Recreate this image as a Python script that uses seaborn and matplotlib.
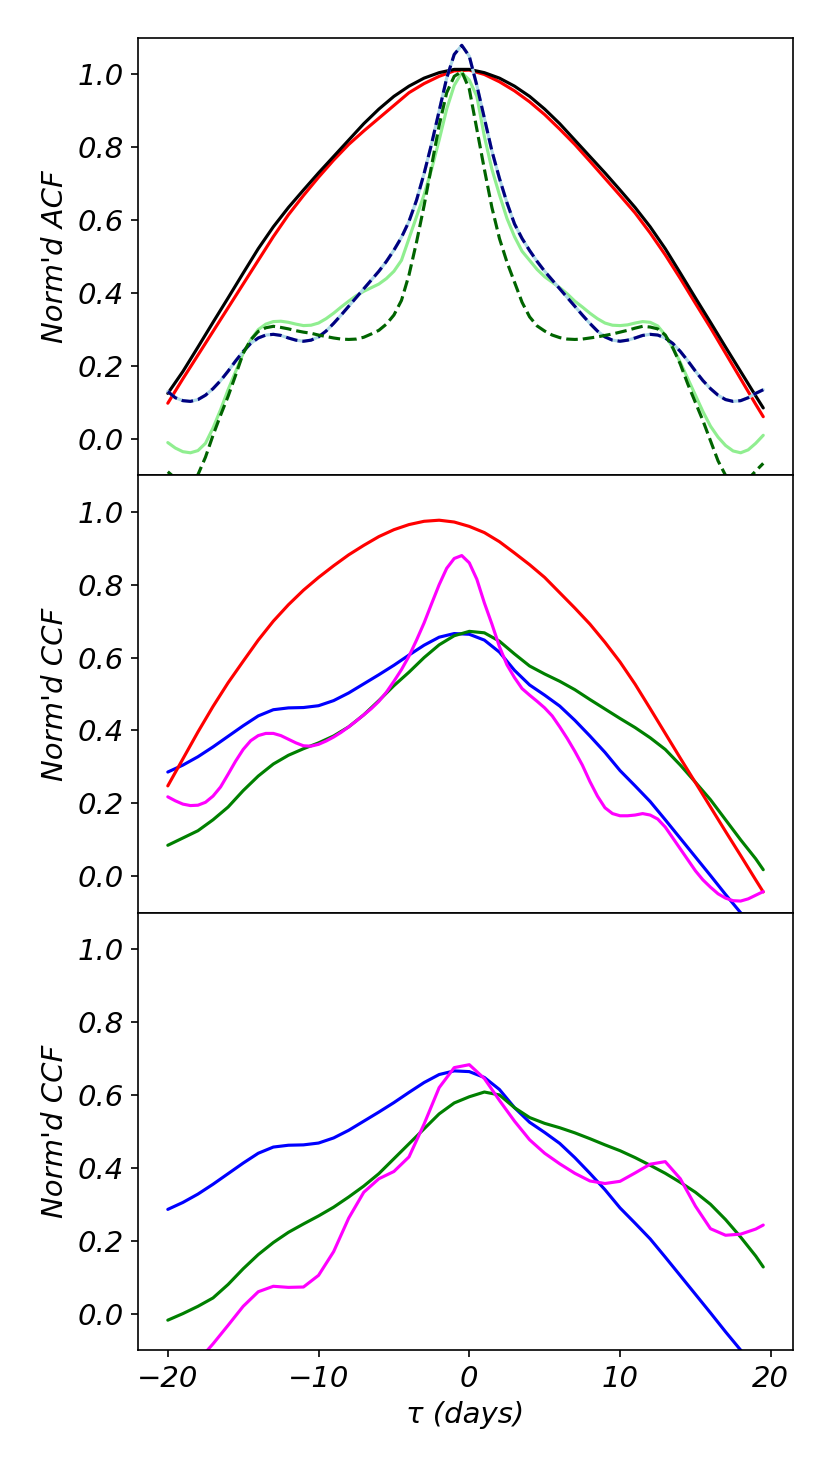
# Normalised ACF / CCF panels, three stacked axes sharing the lag axis
import numpy as np
import matplotlib
matplotlib.use("Agg")
import matplotlib.pyplot as plt
import seaborn as sns

# lag grids (days)
tau = np.append(np.arange(-20, 20, 1.0), 19.5)
tau_fine = np.arange(-20, 20, 0.5)

# top panel: ACFs
acf_red = [0.098, 0.165, 0.23, 0.295, 0.36, 0.425, 0.49, 0.555, 0.615, 0.668,
           0.718, 0.765, 0.808, 0.845, 0.88, 0.915, 0.95, 0.975, 0.995, 1.01,
           1.012, 1.0, 0.98, 0.955, 0.925, 0.89, 0.85, 0.808, 0.762, 0.715,
           0.668, 0.62, 0.565, 0.505, 0.44, 0.372, 0.305, 0.235, 0.165, 0.095,
           0.061]
acf_black = [0.125, 0.185, 0.252, 0.32, 0.387, 0.455, 0.522, 0.582, 0.635, 0.683,
             0.73, 0.775, 0.82, 0.865, 0.905, 0.94, 0.968, 0.99, 1.005, 1.014,
             1.014, 1.005, 0.99, 0.968, 0.94, 0.905, 0.865, 0.82, 0.775, 0.73,
             0.683, 0.635, 0.582, 0.522, 0.455, 0.387, 0.32, 0.252, 0.185, 0.118,
             0.085]
acf_navy = [0.13, 0.113, 0.105, 0.103, 0.108, 0.12, 0.138, 0.16, 0.186, 0.214,
            0.24, 0.262, 0.277, 0.285, 0.287, 0.284, 0.277, 0.271, 0.268, 0.271,
            0.28, 0.296, 0.317, 0.34, 0.364, 0.388, 0.412, 0.436, 0.46, 0.487,
            0.518, 0.553, 0.597, 0.655, 0.728, 0.81, 0.9, 0.99, 1.055, 1.08,
            1.05, 0.97, 0.88, 0.79, 0.715, 0.648, 0.59, 0.55, 0.517, 0.487,
            0.46, 0.436, 0.412, 0.388, 0.364, 0.34, 0.317, 0.296, 0.28, 0.271,
            0.268, 0.271, 0.277, 0.284, 0.287, 0.285, 0.277, 0.262, 0.24, 0.214,
            0.186, 0.16, 0.138, 0.12, 0.108, 0.103, 0.105, 0.113, 0.125, 0.135]
acf_lightgreen = [-0.01, -0.025, -0.035, -0.038, -0.032, -0.012, 0.03, 0.08, 0.135, 0.185,
                  0.235, 0.272, 0.3, 0.315, 0.322, 0.323, 0.32, 0.315, 0.311, 0.312,
                  0.318, 0.33, 0.345, 0.362, 0.378, 0.393, 0.405, 0.415, 0.425, 0.44,
                  0.46, 0.49, 0.55, 0.61, 0.67, 0.74, 0.82, 0.905, 0.97, 1.005,
                  0.985, 0.94, 0.83, 0.74, 0.67, 0.605, 0.555, 0.515, 0.49, 0.465,
                  0.445, 0.43, 0.415, 0.398, 0.378, 0.362, 0.345, 0.33, 0.318, 0.312,
                  0.311, 0.313, 0.318, 0.322, 0.32, 0.31, 0.285, 0.25, 0.21, 0.165,
                  0.12, 0.075, 0.035, 0.005, -0.018, -0.033, -0.038, -0.03, -0.012, 0.01]
acf_darkgreen = [-0.09, -0.108, -0.12, -0.115, -0.098, -0.05, 0.01, 0.065, 0.117, 0.175,
                 0.235, 0.272, 0.295, 0.305, 0.309, 0.306, 0.302, 0.297, 0.293, 0.29,
                 0.285, 0.281, 0.277, 0.274, 0.273, 0.274, 0.279, 0.288, 0.298, 0.315,
                 0.34, 0.38, 0.45, 0.54, 0.64, 0.75, 0.86, 0.95, 0.995, 1.008,
                 0.96, 0.85, 0.74, 0.635, 0.55, 0.485, 0.43, 0.375, 0.335, 0.31,
                 0.296, 0.285, 0.278, 0.274, 0.273, 0.274, 0.277, 0.28, 0.284, 0.288,
                 0.293, 0.298, 0.304, 0.309, 0.307, 0.302, 0.285, 0.25, 0.205, 0.15,
                 0.1, 0.05, -0.005, -0.06, -0.1, -0.12, -0.125, -0.11, -0.088, -0.067]

# middle panel: CCFs
ccf_red = [0.248, 0.322, 0.396, 0.466, 0.531, 0.59, 0.648, 0.7, 0.745, 0.785,
           0.82, 0.852, 0.882, 0.908, 0.932, 0.951, 0.965, 0.974, 0.977, 0.972,
           0.96, 0.943, 0.918, 0.887, 0.855, 0.82, 0.778, 0.736, 0.692, 0.642,
           0.588, 0.527, 0.46, 0.392, 0.324, 0.257, 0.19, 0.123, 0.057, -0.01,
           -0.043]
ccf_blue = [0.286, 0.305, 0.328, 0.355, 0.384, 0.413, 0.44, 0.457, 0.462, 0.463,
            0.468, 0.482, 0.503, 0.528, 0.553, 0.579, 0.607, 0.634, 0.656, 0.666,
            0.664, 0.648, 0.615, 0.565, 0.525, 0.497, 0.467, 0.428, 0.385, 0.34,
            0.29, 0.248, 0.205, 0.155, 0.104, 0.053, 0.002, -0.05, -0.1, -0.15,
            -0.175]
ccf_green = [0.085, 0.105, 0.125, 0.155, 0.19, 0.235, 0.275, 0.308, 0.332, 0.35,
             0.366, 0.385, 0.41, 0.443, 0.482, 0.523, 0.56, 0.6, 0.635, 0.66,
             0.672, 0.668, 0.645, 0.61, 0.577, 0.555, 0.535, 0.512, 0.485, 0.459,
             0.433, 0.408, 0.38, 0.348, 0.305, 0.258, 0.21, 0.155, 0.1, 0.048,
             0.018]
ccf_magenta = [0.218, 0.207, 0.198, 0.194, 0.195, 0.203, 0.22, 0.245, 0.28, 0.316,
               0.348, 0.372, 0.386, 0.392, 0.392, 0.386, 0.376, 0.366, 0.358, 0.357,
               0.362, 0.371, 0.382, 0.395, 0.41, 0.426, 0.443, 0.46, 0.48, 0.505,
               0.535, 0.567, 0.604, 0.648, 0.695, 0.748, 0.8, 0.845, 0.872, 0.88,
               0.86, 0.815, 0.75, 0.692, 0.63, 0.58, 0.545, 0.515, 0.497, 0.48,
               0.462, 0.44, 0.41, 0.378, 0.343, 0.305, 0.26, 0.22, 0.188, 0.172,
               0.166, 0.166, 0.168, 0.172, 0.168, 0.157, 0.135, 0.105, 0.075, 0.045,
               0.015, -0.01, -0.03, -0.048, -0.06, -0.067, -0.068, -0.062, -0.052, -0.042]

# bottom panel: CCFs (blue is the same curve as in the middle panel)
ccf2_green = [-0.018, 0.0, 0.02, 0.043, 0.08, 0.123, 0.162, 0.195, 0.223, 0.246,
              0.268, 0.292, 0.32, 0.35, 0.384, 0.425, 0.466, 0.507, 0.548, 0.578,
              0.595, 0.608, 0.6, 0.565, 0.538, 0.522, 0.51, 0.496, 0.48, 0.463,
              0.447, 0.428, 0.407, 0.385, 0.36, 0.333, 0.3, 0.258, 0.21, 0.158,
              0.128]
ccf2_magenta = [-0.23, -0.18, -0.13, -0.083, -0.032, 0.02, 0.06, 0.075, 0.072, 0.073,
                0.105, 0.17, 0.262, 0.333, 0.37, 0.39, 0.43, 0.52, 0.62, 0.675,
                0.683, 0.645, 0.585, 0.528, 0.477, 0.44, 0.411, 0.385, 0.364, 0.357,
                0.363, 0.386, 0.41, 0.417, 0.37, 0.295, 0.233, 0.215, 0.218, 0.232,
                0.243]

sns.set_style("ticks")
plt.rcParams.update({
    "font.family": ["DejaVu Sans"],
    "font.style": "italic",
    "font.size": 14,
    "axes.labelsize": 14,
    "xtick.labelsize": 14,
    "ytick.labelsize": 14,
    "axes.edgecolor": "black",
    "axes.linewidth": 0.8,
    "xtick.color": "black",
    "ytick.color": "black",
    "text.color": "black",
    "axes.labelcolor": "black",
    "xtick.major.width": 0.8,
    "ytick.major.width": 0.8,
    "xtick.major.size": 3.5,
    "ytick.major.size": 3.5,
})

fig, axes = plt.subplots(3, 1, sharex=True, figsize=(831 / 150, 1463 / 150), dpi=150)
fig.subplots_adjust(left=0.1661, right=0.9543, top=0.974, bottom=0.0772, hspace=0)
lw = 1.5

# ACF panel
ax = axes[0]
sns.lineplot(x=tau, y=acf_red, ax=ax, color="red", lw=lw)
sns.lineplot(x=tau, y=acf_black, ax=ax, color="black", lw=lw)
sns.lineplot(x=tau_fine, y=acf_lightgreen, ax=ax, color="lightgreen", lw=lw)
sns.lineplot(x=tau_fine, y=acf_navy, ax=ax, color="lightblue", lw=lw)
sns.lineplot(x=tau_fine, y=acf_navy, ax=ax, color="navy", lw=lw, linestyle="--")
sns.lineplot(x=tau_fine, y=acf_darkgreen, ax=ax, color="darkgreen", lw=lw, linestyle="--")
ax.set_ylabel("Norm'd ACF")

# CCF panel
ax = axes[1]
sns.lineplot(x=tau, y=ccf_blue, ax=ax, color="blue", lw=lw)
sns.lineplot(x=tau, y=ccf_green, ax=ax, color="green", lw=lw)
sns.lineplot(x=tau, y=ccf_red, ax=ax, color="red", lw=lw)
sns.lineplot(x=tau_fine, y=ccf_magenta, ax=ax, color="magenta", lw=lw)
ax.set_ylabel("Norm'd CCF")

# second CCF panel
ax = axes[2]
sns.lineplot(x=tau, y=ccf_blue, ax=ax, color="blue", lw=lw)
sns.lineplot(x=tau, y=ccf2_green, ax=ax, color="green", lw=lw)
sns.lineplot(x=tau, y=ccf2_magenta, ax=ax, color="magenta", lw=lw)
ax.set_ylabel("Norm'd CCF")
ax.set_xlabel("τ (days)")

for ax in axes:
    ax.set_ylim(-0.1, 1.1)
    ax.set_yticks([0.0, 0.2, 0.4, 0.6, 0.8, 1.0])
for ax in axes[:2]:
    ax.tick_params(axis="x", bottom=False, labelbottom=False)
axes[2].set_xticks([-20, -10, 0, 10, 20])

fig.savefig("out.png", dpi=150)
